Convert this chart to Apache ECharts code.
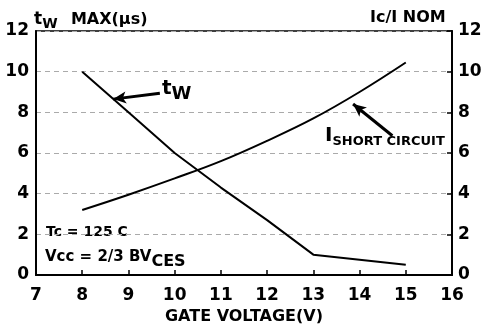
<!DOCTYPE html>
<html>
<head>
<meta charset="utf-8">
<script src="https://cdn.jsdelivr.net/npm/echarts@6/dist/echarts.min.js"></script>
<style>
	html, body { margin: 0; padding: 0; background: #fff; }
	#chart { width: 491px; height: 330px; }
</style>
</head>
<body>
<div id="chart"></div>
<script>
// gate voltage (V)
const gateVoltage = [8, 9, 10, 11, 12, 13, 14, 15];
// tW max (us), left axis
const twVoltage = [8, 9, 10, 11, 12, 13, 15];
const twMax = [10, 8.0, 6.0, 4.3, 2.7, 1.0, 0.5];
// Ic / I nom, right axis
const shortCircuit = [3.2, 3.95, 4.75, 5.6, 6.6, 7.7, 9.0, 10.45];

const font = 'DejaVu Sans, Liberation Sans, sans-serif';
const txt = (size, extra) => Object.assign({ fontSize: size, fontWeight: 'bold', fontFamily: font, fill: '#000' }, extra || {});
const axisLabelStyle = { color: '#000', fontSize: 17, fontWeight: 'bold', fontFamily: font };

const chart = echarts.init(document.getElementById('chart'));

// annotation arrow drawn in data coords
const arrowLine = (from, to) => ({
	type: 'line',
	data: [],
	silent: true,
	markLine: {
		silent: true,
		symbol: ['none', 'arrow'],
		symbolSize: [9, 13],
		label: { show: false },
		lineStyle: { color: '#000', width: 3, type: 'solid' },
		data: [[{ coord: from }, { coord: to }]]
	}
});

chart.setOption({
	animation: false,
	grid: { left: 36, right: 39, top: 31, bottom: 52, show: true, borderColor: '#000', borderWidth: 1.5 },
	xAxis: {
		type: 'value', min: 7, max: 16, interval: 1,
		name: 'GATE VOLTAGE(V)', nameLocation: 'middle', nameGap: 34,
		nameTextStyle: { color: '#000', fontSize: 16, fontWeight: 'bold', fontFamily: font },
		axisLine: { lineStyle: { color: '#000', width: 2 } },
		axisTick: { inside: true, length: 5, lineStyle: { color: '#000', width: 1.5 } },
		axisLabel: Object.assign({ margin: 12 }, axisLabelStyle),
		splitLine: { show: false }
	},
	yAxis: [{
		type: 'value', min: 0, max: 12, interval: 2, position: 'left',
		axisLine: { show: true, lineStyle: { color: '#000', width: 2 } },
		axisTick: { show: false },
		axisLabel: Object.assign({ margin: 7 }, axisLabelStyle),
		splitLine: { show: true, lineStyle: { color: '#aaa', width: 1, type: [5, 4] } }
	}, {
		type: 'value', min: 0, max: 12, interval: 2, position: 'right',
		axisLine: { show: true, lineStyle: { color: '#000', width: 2 } },
		axisTick: { show: true, inside: true, length: 5, lineStyle: { color: '#000', width: 1.5 } },
		axisLabel: Object.assign({ margin: 6 }, axisLabelStyle),
		splitLine: { show: false }
	}],
	series: [{
		name: 'tW',
		type: 'line',
		yAxisIndex: 0,
		showSymbol: false,
		lineStyle: { color: '#000', width: 2 },
		data: twVoltage.map((v, i) => [v, twMax[i]])
	}, {
		name: 'I short circuit',
		type: 'line',
		yAxisIndex: 1,
		smooth: 0.4,
		showSymbol: false,
		lineStyle: { color: '#000', width: 2 },
		data: gateVoltage.map((v, i) => [v, shortCircuit[i]])
	},
	arrowLine([9.68, 8.94], [8.67, 8.65]),
	arrowLine([14.71, 6.85], [13.86, 8.41])
	],
	graphic: [{
		type: 'text', left: 34, top: 11,
		style: {
			text: '{t|t}{s|W}    {m|MAX(μs)}',
			rich: {
				t: txt(17),
				s: txt(14, { padding: [9, 0, 0, 0] }),
				m: txt(16)
			}
		}
	}, {
		type: 'text', left: 370, top: 10,
		style: txt(16, { text: 'Ic/I NOM' })
	}, {
		type: 'text', left: 162, top: 79,
		style: {
			text: '{t|t}{s|W}',
			rich: {
				t: txt(20),
				s: txt(18, { padding: [10, 0, 0, 0] })
			}
		}
	}, {
		type: 'text', left: 325, top: 126,
		style: {
			text: '{i|I}{s|SHORT CIRCUIT}',
			rich: {
				i: txt(20),
				s: txt(13, { padding: [11, 0, 0, 0] })
			}
		}
	}, {
		type: 'text', left: 46, top: 225,
		style: txt(14, { text: 'Tc = 125 C' })
	}, {
		type: 'text', left: 45, top: 250,
		style: {
			text: '{m|Vcc = 2/3 BV}{s|CES}',
			rich: {
				m: txt(15),
				s: txt(16, { padding: [9, 0, 0, 0] })
			}
		}
	}]
});
</script>
</body>
</html>
